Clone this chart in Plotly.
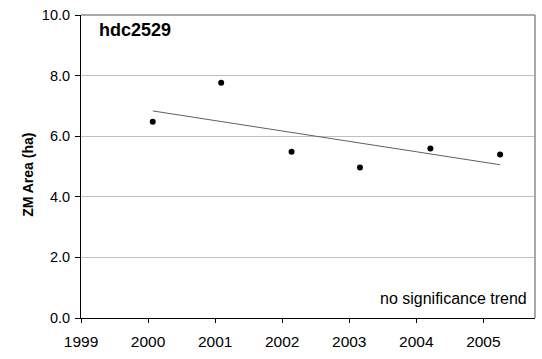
import numpy as np
import plotly.graph_objects as go

# Survey dates (decimal years) and mapped ZM area in hectares
survey_year = [2000.07, 2001.09, 2002.14, 2003.16, 2004.21, 2005.25]
zm_area_ha = [6.48, 7.76, 5.49, 4.97, 5.59, 5.40]

site_name = "hdc2529"
trend_note = "no significance trend"
y_title = "ZM Area (ha)"
x_ticks = [1999, 2000, 2001, 2002, 2003, 2004, 2005]
y_ticks = [0, 2, 4, 6, 8, 10]

# Least-squares linear trend through the observations
slope, intercept = np.polyfit(survey_year, zm_area_ha, 1)
trend_x = [survey_year[0], survey_year[-1]]
trend_y = [slope * x + intercept for x in trend_x]

font_family = "Liberation Sans, Arial, sans-serif"

fig = go.Figure()
fig.add_trace(go.Scatter(
    x=trend_x, y=trend_y, mode="lines",
    line=dict(color="#606060", width=1),
    hoverinfo="skip", showlegend=False,
))
fig.add_trace(go.Scatter(
    x=survey_year, y=zm_area_ha, mode="markers",
    marker=dict(color="black", size=6),
    showlegend=False,
))

fig.update_layout(
    width=542, height=359,
    margin=dict(l=81, r=7, t=15, b=41),
    paper_bgcolor="white", plot_bgcolor="white",
    font=dict(family=font_family, color="black"),
    xaxis=dict(
        range=[1999, 2005.77],
        tickvals=x_ticks,
        ticktext=[str(t) for t in x_ticks],
        ticks="outside", ticklen=4, tickcolor="black", tickwidth=1,
        ticklabelstandoff=5,
        showline=True, linecolor="black", linewidth=1,
        showgrid=False, zeroline=False,
        tickfont=dict(size=15.5, family=font_family),
    ),
    yaxis=dict(
        range=[0, 10],
        tickvals=y_ticks,
        ticktext=[f"{v:.1f}" for v in y_ticks],
        ticks="outside", ticklen=5, tickcolor="black", tickwidth=1,
        ticklabelstandoff=2,
        showline=True, linecolor="black", linewidth=1,
        showgrid=True, gridcolor="#c0c0c0", gridwidth=1,
        zeroline=False,
        tickfont=dict(size=14.5, family=font_family),
    ),
    shapes=[
        dict(type="line", xref="paper", yref="paper", x0=0, x1=1, y0=1, y1=1,
             line=dict(color="#8c8c8c", width=1.5)),
        dict(type="line", xref="paper", yref="paper", x0=1, x1=1, y0=0, y1=1,
             line=dict(color="#8c8c8c", width=1.5)),
    ],
    annotations=[
        dict(text=f"<b>{site_name}</b>", xref="paper", yref="paper",
             x=0.035, y=0.95, xanchor="left", yanchor="middle",
             showarrow=False, font=dict(size=18, family=font_family)),
        dict(text=trend_note, xref="paper", yref="paper",
             x=0.987, y=0.066, xanchor="right", yanchor="middle",
             showarrow=False, font=dict(size=16, family=font_family)),
        dict(text=f"<b>{y_title}</b>", xref="paper", yref="paper",
             x=-0.117, y=0.472, xanchor="center", yanchor="middle",
             textangle=-90, showarrow=False,
             font=dict(size=14, family=font_family)),
    ],
)

fig.write_html("out.html")
